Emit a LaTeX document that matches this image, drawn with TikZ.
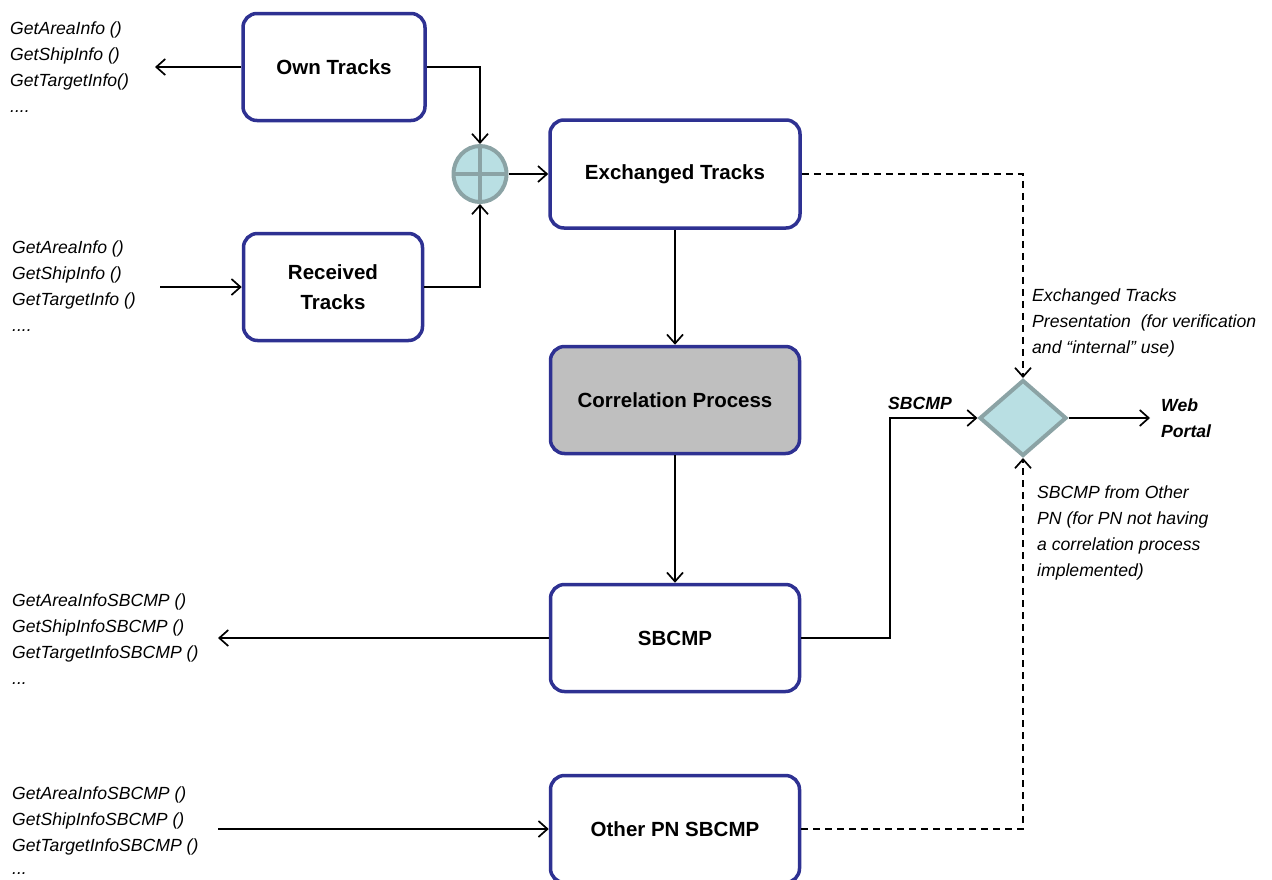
\documentclass[tikz,border=0pt]{standalone}
\usepackage{fontspec}
\setmainfont{Liberation Sans}
\usetikzlibrary{arrows.meta,shapes.geometric}
\definecolor{navy}{HTML}{2E3192}
\definecolor{lcyan}{HTML}{B9DFE3}
\definecolor{tgray}{HTML}{8BA3A5}
\definecolor{cgray}{HTML}{BFBFBF}
\tikzset{
  box/.style={draw=navy, line width=3.5pt, rounded corners=14pt, fill=white,
    font=\bfseries\fontsize{20.5}{30}\selectfont, align=center, inner sep=0pt},
  arr/.style={line width=1.7pt, -{Straight Barb[length=9pt,width=16pt]}},
  dashline/.style={dash pattern=on 7pt off 5pt},
  itxt/.style={font=\itshape\fontsize{17.6}{26}\selectfont, align=left, inner sep=0pt, anchor=north west},
  bitxt/.style={font=\bfseries\itshape\fontsize{17.6}{26}\selectfont, align=left, inner sep=0pt},
  sym/.style={draw=tgray, fill=lcyan, line width=4pt, inner sep=0pt}
}
\begin{document}
\begin{tikzpicture}[x=1pt,y=-1pt]
\useasboundingbox (0,0) rectangle (1272,879);
% boxes
\node[box, minimum width=182pt, minimum height=107pt] (own) at (334,67) {Own Tracks};
\node[box, minimum width=179pt, minimum height=107pt] (rec) at (333,287) {Received\\Tracks};
\node[box, minimum width=250pt, minimum height=108pt] (exch) at (675,174) {Exchanged Tracks};
\node[box, fill=cgray, minimum width=249pt, minimum height=107pt] (corr) at (675,400) {Correlation Process};
\node[box, minimum width=249pt, minimum height=107pt] (sbcmp) at (675,638) {SBCMP};
\node[box, minimum width=249pt, minimum height=107pt] (oth) at (675,829) {Other PN SBCMP};
% symbols
\node[sym, ellipse, minimum width=53pt, minimum height=56pt] (sum) at (480,174) {};
\draw[tgray, line width=4pt] (480,148) -- (480,200) (455,174) -- (505,174);
\node[sym, diamond, minimum width=87pt, minimum height=76pt] (dia) at (1023,418) {};
% coordinates
\coordinate (ownout) at (155,67);
\coordinate (recin) at (160,287);
\coordinate (sbout) at (218,638);
\coordinate (othin) at (218,829);
\coordinate (sbturn) at (890,638);
\coordinate (web) at (1150,418);
% connectors
\draw[arr] (own.east) -| (sum.north);
\draw[arr] (rec.east) -| (sum.south);
\draw[arr] (sum.east) -- (exch.west);
\draw[arr] (own.west) -- (ownout);
\draw[arr] (recin) -- (rec.west);
\draw[arr] (exch.south) -- (corr.north);
\draw[arr] (corr.south) -- (sbcmp.north);
\draw[arr] (sbcmp.west) -- (sbout);
\draw[arr] (othin) -- (oth.west);
\draw[arr] (sbcmp.east) -- (sbturn) |- (dia.west);
\draw[arr, dashline] (exch.east) -| (dia.north);
\draw[arr, dashline] (oth.east) -| (dia.south);
\draw[arr] (dia.east) -- (web);
% labels
\node[itxt] (t1) at (10,22) {GetAreaInfo ()\\GetShipInfo ()\\GetTargetInfo()\\....};
\node[itxt] (t2) at (12,241) {GetAreaInfo ()\\GetShipInfo ()\\GetTargetInfo ()\\....};
\node[itxt] (t3) at (12,594) {GetAreaInfoSBCMP ()\\GetShipInfoSBCMP ()\\GetTargetInfoSBCMP ()\\...};
\node[itxt] (t4) at (12,787) {GetAreaInfoSBCMP ()\\GetShipInfoSBCMP ()\\GetTargetInfoSBCMP ()\\[-3pt]...};
\node[itxt] (t5) at (1032,289) {Exchanged Tracks\\Presentation\ \ (for verification\\and “internal” use)};
\node[itxt] (t6) at (1037,486) {SBCMP from Other\\PN (for PN not having\\a correlation process\\implemented)};
\node[bitxt, anchor=base west] (lsb) at (888,409) {SBCMP};
\node[bitxt, anchor=north west] (lweb) at (1161,399) {Web\\Portal};
\end{tikzpicture}
\end{document}
